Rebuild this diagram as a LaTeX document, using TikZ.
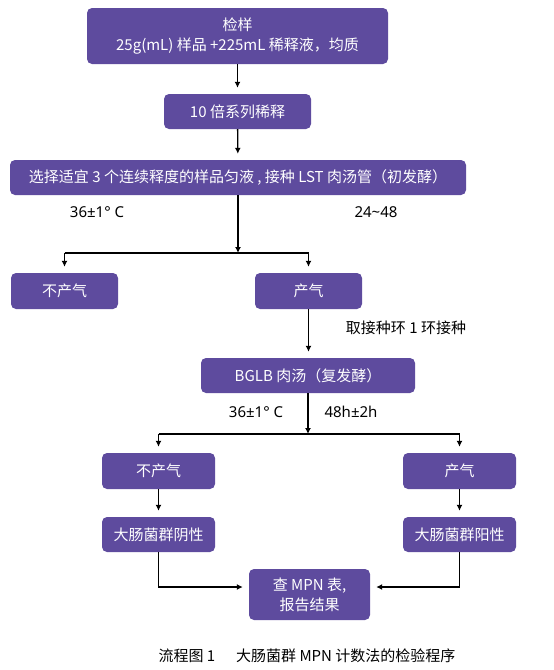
\documentclass[tikz,border=0pt]{standalone}
\usepackage{fontspec}
\setmainfont{Noto Sans CJK SC}
\newfontfamily\latina{Noto Sans}
\usetikzlibrary{arrows.meta}
\definecolor{morado}{RGB}{94,75,158}

\begin{document}
\begin{tikzpicture}[x=1pt, y=-1pt,
		caja/.style={rectangle, rounded corners=5pt, fill=morado, text=white, align=center, inner sep=0pt, font=\fontsize{15}{20}\selectfont},
		flecha/.style={line width=1.3pt, -{Latex[length=6pt,width=6pt]}, shorten >=6pt},
		bajada/.style={line width=1.3pt, -{Latex[length=6pt,width=6pt]}},
		linea/.style={line width=1.3pt},
		etiqueta/.style={font=\fontsize{15}{18}\selectfont}]
			% Marco de la figura
			\useasboundingbox (0,0) rectangle (554,670);

			% Definir los puntos de bifurcacion
			\coordinate (s1) at (238, 253);       % Primera bifurcacion
			\coordinate (s2) at (308, 434);       % Segunda bifurcacion
			\coordinate (u1) at (158.5, 587);     % Codo izquierdo
			\coordinate (u2) at (459.5, 587);     % Codo derecho

			% Dibujar las cajas
			\node[caja, minimum width=301pt, minimum height=56pt] (jianyang) at (237.5, 36) {检样\\25g(mL) 样品 +225mL 稀释液，均质};
			\node[caja, minimum width=147pt, minimum height=35pt] (xishi) at (237.5, 111.5) {10 倍系列稀释};
			\node[caja, minimum width=456pt, minimum height=35pt] (lst) at (238, 177.5) {选择适宜 3 个连续释度的样品匀液 , 接种 LST 肉汤管（初发酵）};
			\node[caja, minimum width=107pt, minimum height=36pt] (nogas1) at (64.5, 291) {不产气};
			\node[caja, minimum width=107pt, minimum height=36pt] (gas1) at (308.5, 291) {产气};
			\node[caja, minimum width=214pt, minimum height=35pt] (bglb) at (308, 375.5) {BGLB 肉汤（复发酵）};
			\node[caja, minimum width=113pt, minimum height=36pt] (nogas2) at (158.5, 471) {不产气};
			\node[caja, minimum width=113pt, minimum height=36pt] (gas2) at (459.5, 471) {产气};
			\node[caja, minimum width=113pt, minimum height=35pt] (neg) at (158.5, 534.5) {大肠菌群阴性};
			\node[caja, minimum width=113pt, minimum height=35pt] (pos) at (459.5, 534.5) {大肠菌群阳性};
			\node[caja, minimum width=121pt, minimum height=51pt] (mpn) at (309.5, 594.5) {查 MPN 表,\\报告结果};

			% Dibujar las etiquetas
			\node[etiqueta] (t1) at (97, 212) {\latina 36±1° C};
			\node[etiqueta] (h1) at (376, 212) {\latina 24\textasciitilde 48};
			\node[etiqueta] (jz) at (406, 328) {取接种环 1 环接种};
			\node[etiqueta] (t2) at (256, 412) {\latina 36±1° C};
			\node[etiqueta] (h2) at (351, 412) {\latina 48h±2h};

			% Dibujar las flechas
			\draw[flecha] (jianyang) -- (xishi);
			\draw[flecha] (xishi) -- (lst);
			\draw[bajada] (lst) -- (s1);
			\draw[linea] (s1 -| nogas1) -- (s1 -| gas1);
			\draw[flecha] (s1 -| nogas1) -- (nogas1);
			\draw[flecha] (s1 -| gas1) -- (gas1);
			\draw[flecha] (gas1) -- (gas1 |- bglb.north);
			\draw[bajada] (bglb.south -| s2) -- (s2);
			\draw[linea] (s2 -| nogas2) -- (s2 -| gas2);
			\draw[flecha] (s2 -| nogas2) -- (nogas2);
			\draw[flecha] (s2 -| gas2) -- (gas2);
			\draw[flecha] (nogas2) -- (neg);
			\draw[flecha] (gas2) -- (pos);
			\draw[flecha] (neg) -- (u1) -- (mpn.west |- u1);
			\draw[flecha] (pos) -- (u2) -- (mpn.east |- u2);

			% Pie de figura
			\node[font=\fontsize{15}{18}\selectfont] (pie) at (307, 656) {流程图 1\hspace{1.4em}大肠菌群 MPN 计数法的检验程序};

		\end{tikzpicture}
\end{document}
